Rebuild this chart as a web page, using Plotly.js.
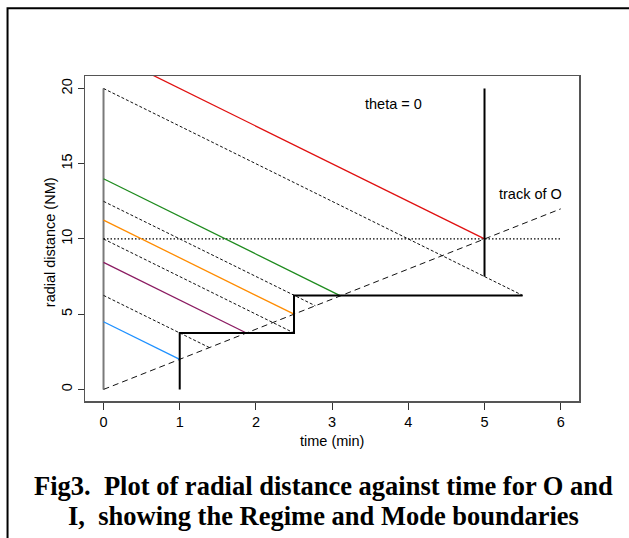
<!DOCTYPE html>
<html>
<head>
<meta charset="utf-8">
<script src="https://cdn.plot.ly/plotly-3.0.1.min.js"></script>
<style>
html,body{margin:0;padding:0;background:#fff;}
#chart{width:629px;height:538px;}
</style>
</head>
<body>
<div id="chart"></div>
<script>
// ---- data ----
// coloured approach lines of I (time in min, radial distance in NM)
const redT = [0, 5];        const redR = [22.5, 10];
const greenT = [0, 3.11];   const greenR = [14, 6.22];
const orangeT = [0, 2.5];   const orangeR = [11.25, 5];
const purpleT = [0, 1.875]; const purpleR = [8.44, 3.75];
const blueT = [0, 1];       const blueR = [4.5, 2];

// dotted boundary lines
const dot1T = [0, 5.5];   const dot1R = [20, 6.25];
const dot2T = [0, 2.78];  const dot2R = [12.5, 5.56];
const dot3T = [0, 2.5];   const dot3R = [10, 3.75];
const dot4T = [0, 1.39];  const dot4R = [6.25, 2.78];

// horizontal dotted line at 10 NM
const hT = [0, 6];  const hR = [10, 10];
// track of O
const trackT = [0, 6]; const trackR = [0, 12];
// grey vertical at t = 0
const zeroT = [0, 0];  const zeroR = [0, 20];
// regime / mode step boundary
const stepT = [1, 1, 2.5, 2.5, 5.5];
const stepR = [0, 3.75, 3.75, 6.25, 6.25];
// theta = 0 vertical line
const thetaT = [5, 5]; const thetaR = [7.5, 20];

const xTicks = [0, 1, 2, 3, 4, 5, 6];
const yTicks = [0, 5, 10, 15, 20];

const labels = [
  {text: 'theta = 0', t: 3.81, r: 18.95},
  {text: 'track of O', t: 5.6, r: 13.0}
];
const xTitle = 'time (min)';
const yTitle = 'radial distance (NM)';
const caption1 = 'Fig3.\u00A0 Plot of radial distance against time for O and';
const caption2 = 'I,\u00A0 showing the Regime and Mode boundaries';

// ---- traces ----
function ln(x, y, color, width, dash) {
  return {x: x, y: y, type: 'scatter', mode: 'lines', hoverinfo: 'skip',
          line: {color: color, width: width, dash: dash || 'solid'}};
}
const traces = [
  ln(zeroT, zeroR, '#7a7a7a', 2),
  ln(hT, hR, '#000', 1.3, '1.5px,2px'),
  ln(dot1T, dot1R, '#111', 1, '3px,2px'),
  ln(dot2T, dot2R, '#111', 1, '3px,2px'),
  ln(dot3T, dot3R, '#111', 1, '3px,2px'),
  ln(dot4T, dot4R, '#111', 1, '3px,2px'),
  ln(trackT, trackR, '#111', 1, '6px,4px'),
  ln(redT, redR, '#E01010', 1.3),
  ln(greenT, greenR, '#1E8B1E', 1.3),
  ln(orangeT, orangeR, '#FF8C00', 1.3),
  ln(purpleT, purpleR, '#8B1C62', 1.3),
  ln(blueT, blueR, '#1E90FF', 1.3),
  ln(stepT, stepR, '#000', 2),
  ln(thetaT, thetaR, '#000', 2)
];

const font = {family: 'Liberation Sans, Arial, sans-serif', size: 14.5, color: '#000'};
const serif = {family: 'Liberation Serif, Times New Roman, serif', size: 26.5, color: '#000'};

const annotations = labels.map(l => ({
  x: l.t, y: l.r, xref: 'x', yref: 'y', text: l.text, showarrow: false, font: font
}));
annotations.push({x: 0.5, y: -0.123, xref: 'paper', yref: 'paper', text: xTitle,
  showarrow: false, font: font, xanchor: 'center', yanchor: 'middle'});
annotations.push({x: -0.072, y: 0.49, xref: 'paper', yref: 'paper', text: yTitle,
  showarrow: false, font: font, xanchor: 'center', yanchor: 'middle', textangle: -90});
annotations.push({x: 0.483, y: -0.262, xref: 'paper', yref: 'paper', text: '<b>' + caption1 + '</b>',
  showarrow: false, font: serif, xanchor: 'center', yanchor: 'middle'});
annotations.push({x: 0.483, y: -0.353, xref: 'paper', yref: 'paper', text: '<b>' + caption2 + '</b>',
  showarrow: false, font: serif, xanchor: 'center', yanchor: 'middle'});

const layout = {
  width: 629, height: 538,
  margin: {l: 85, r: 50, t: 76, b: 137, pad: 0},
  paper_bgcolor: '#fff', plot_bgcolor: '#fff',
  showlegend: false,
  font: font,
  xaxis: {
    range: [-0.243, 6.24], tickvals: xTicks, ticktext: xTicks.map(String),
    ticks: 'outside', ticklen: 7, tickwidth: 1, tickcolor: '#333',
    showgrid: false, zeroline: false,
    showline: true, mirror: true, linecolor: '#555', linewidth: 1.5,
    tickfont: font
  },
  yaxis: {
    range: [-0.77, 20.83], tickvals: yTicks, ticktext: yTicks.map(String),
    ticks: 'outside', ticklen: 6, tickwidth: 1, tickcolor: '#333', tickangle: -90,
    showgrid: false, zeroline: false,
    showline: true, mirror: true, linecolor: '#555', linewidth: 1.5,
    tickfont: font
  },
  shapes: [{
    type: 'rect', xref: 'paper', yref: 'paper',
    x0: -0.1568, x1: 1.3, y0: -0.7, y1: 1.2082,
    line: {color: '#000', width: 2}
  }],
  annotations: annotations
};

Plotly.newPlot('chart', traces, layout, {displayModeBar: false, staticPlot: true});
</script>
</body>
</html>
